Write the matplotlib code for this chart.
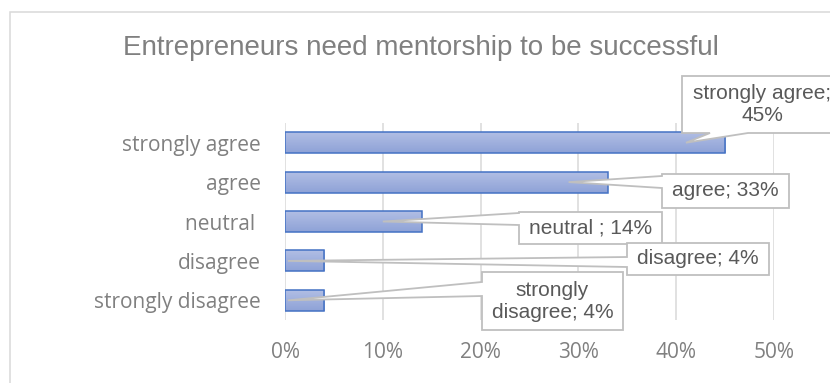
import matplotlib
matplotlib.use("Agg")
import matplotlib.pyplot as plt
import numpy as np
from matplotlib.patches import Polygon, Rectangle
from matplotlib.colors import LinearSegmentedColormap

categories = ["strongly agree", "agree", "neutral ", "disagree", "strongly disagree"]
values = [45, 33, 14, 4, 4]
label_texts = ["strongly agree;\n45%", "agree; 33%", "neutral ; 14%",
               "disagree; 4%", "strongly\ndisagree; 4%"]
x_ticks = [0, 10, 20, 30, 40, 50]

W, H = 830, 383

# callout layout in pixels: box (x0, y0, x1, y1), side of the pointer, base span,
# and where the pointer tip sits along the bar (percent)
callouts = [
    dict(box=(682, 76, 842, 133), side="bottom", base=(710, 748), tip=41),
    dict(box=(662, 174, 789, 208), side="left", base=(176, 188), tip=29),
    dict(box=(519, 212, 662, 244), side="left", base=(213, 225), tip=10),
    dict(box=(627, 243, 769, 275), side="left", base=(257, 267), tip=0.3),
    dict(box=(482, 272, 623, 330), side="left", base=(282, 296), tip=0.3),
]

def fx(px):
    return px / W

def fy(py):
    return 1 - py / H

fig = plt.figure(figsize=(W / 100, H / 100), dpi=100)
ax = fig.add_axes([fx(285), fy(320), fx(774) - fx(285), fy(123) - fy(320)])

y = np.arange(len(categories))
bar_h = 0.53
bars = ax.barh(y, values, height=bar_h, color="none", edgecolor="#4472c4",
               linewidth=1.1, zorder=3)

# vertical gradient inside each bar
grad_cmap = LinearSegmentedColormap.from_list("bar", ["#b1bee4", "#8ea2d7"])
grad = np.linspace(0, 1, 64).reshape(-1, 1)
for rect, yi, v in zip(bars, y, values):
    im = ax.imshow(grad, cmap=grad_cmap, aspect="auto", origin="upper",
                   extent=[0, v, yi + bar_h / 2, yi - bar_h / 2], zorder=2)
    im.set_clip_path(rect)

ax.set_xlim(0, 50)
ax.set_ylim(len(categories) - 0.5, -0.5)
ax.set_xticks(x_ticks)
ax.set_xticklabels([f"{t}%" for t in x_ticks])
ax.set_yticks(y)
ax.set_yticklabels(categories)
ax.tick_params(axis="both", length=0, labelsize=15, labelcolor="#808080")
ax.tick_params(axis="x", pad=16)
ax.tick_params(axis="y", pad=17.5)
for lab in ax.get_xticklabels() + ax.get_yticklabels():
    lab.set_fontfamily("Open Sans")
for s in ax.spines.values():
    s.set_visible(False)
ax.grid(axis="x", color="#d9d9d9", linewidth=1.1, zorder=0)
ax.set_axisbelow(True)

# outer chart border
fig.patches.append(Rectangle((fx(10), -0.2), 1.2, fy(12) + 0.2, transform=fig.transFigure,
                             fill=False, edgecolor="#d9d9d9", linewidth=1.1, zorder=0))

fig.text(fx(421), fy(55), "Entrepreneurs need mentorship to be successful",
         ha="center", va="baseline", fontsize=20, color="#808080",
         family="Liberation Sans")

to_fig = ax.transData + fig.transFigure.inverted()
for c, text, yi in zip(callouts, label_texts, y):
    x0, y0, x1, y1 = c["box"]
    tx, ty = to_fig.transform((c["tip"], yi))
    if c["side"] == "left":
        b_hi, b_lo = c["base"]
        pts = [(fx(x0), fy(y1)), (fx(x1), fy(y1)), (fx(x1), fy(y0)), (fx(x0), fy(y0)),
               (fx(x0), fy(b_hi)), (tx, ty), (fx(x0), fy(b_lo))]
    else:
        bl, br = c["base"]
        pts = [(fx(x0), fy(y1)), (fx(bl), fy(y1)), (tx, ty), (fx(br), fy(y1)),
               (fx(x1), fy(y1)), (fx(x1), fy(y0)), (fx(x0), fy(y0))]
    fig.patches.append(Polygon(pts, closed=True, transform=fig.transFigure,
                               facecolor="white", edgecolor="#bfbfbf",
                               linewidth=1.3, zorder=5))
    fig.text(fx((x0 + x1) / 2), fy((y0 + y1) / 2), text, ha="center", va="center",
             fontsize=15, color="#595959", family="Liberation Sans",
             linespacing=1.2, zorder=6)

fig.savefig("out.png", dpi=100)
